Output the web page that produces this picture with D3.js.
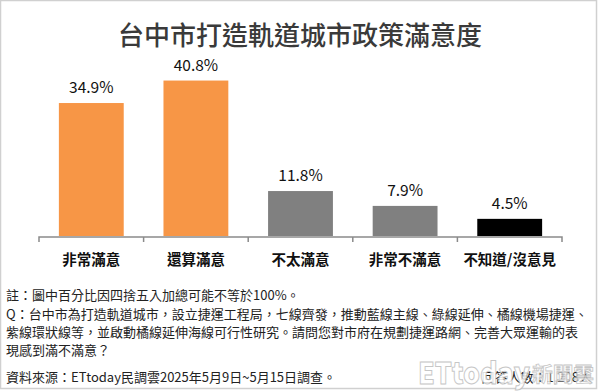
<!DOCTYPE html>
<html>
<head>
<meta charset="utf-8">
<script src="https://cdn.jsdelivr.net/npm/d3@7"></script>
<style>
  html, body { margin: 0; padding: 0; background: #fff; }
  text { font-family: "Noto Sans CJK TC", "Noto Sans", sans-serif; }
</style>
</head>
<body>
<div id="app"></div>
<script>
// 資料
const categories = ['非常滿意', '還算滿意', '不太滿意', '非常不滿意', '不知道/沒意見'];
const values = [34.9, 40.8, 11.8, 7.9, 4.5];
const barColors = ['#f79646', '#f79646', '#808080', '#808080', '#000000'];

const title = '台中市打造軌道城市政策滿意度';
const noteLines = [
    '註：圖中百分比因四捨五入加總可能不等於100%。',
    'Q：台中市為打造軌道城市，設立捷運工程局，七線齊發，推動藍線主線、綠線延伸、橘線機場捷運、',
    '紫線環狀線等，並啟動橘線延伸海線可行性研究。請問您對市府在規劃捷運路網、完善大眾運輸的表',
    '現感到滿不滿意？',
    '資料來源：ETtoday民調雲2025年5月9日~5月15日調查。'
];
const sampleText = '回答人數：1,208人';

const width = 600, height = 392;
const padding = { left: 39, right: 38, top: 45.5, baseline: 236 };

let svg = d3.select('#app').append('svg')
    .attr('width', width)
    .attr('height', height);

// 外框
svg.append('rect')
    .attr('x', 0.5).attr('y', 0.5)
    .attr('width', 596).attr('height', 388)
    .attr('fill', '#fff')
    .attr('stroke', '#d0d0d0')
    .attr('stroke-width', 1.5);

// 標題
svg.append('text')
    .attr('x', 300).attr('y', 45)
    .attr('text-anchor', 'middle')
    .attr('font-size', 26)
    .attr('font-weight', 500)
    .attr('fill', '#3a3a3a')
    .text(title);

// 比例尺
let xScale = d3.scaleBand()
    .domain(categories)
    .range([padding.left, width - padding.right])
    .paddingInner(0.38)
    .paddingOuter(0.19);

let yScale = d3.scaleLinear()
    .domain([0, 50])
    .range([padding.baseline, padding.top]);

// 柱形
svg.selectAll('rect.bar')
    .data(values)
    .enter()
    .append('rect')
    .attr('class', 'bar')
    .attr('x', (d, i) => xScale(categories[i]))
    .attr('y', d => yScale(d))
    .attr('width', xScale.bandwidth())
    .attr('height', d => yScale(0) - yScale(d))
    .attr('fill', (d, i) => barColors[i]);

// 數值標籤
svg.selectAll('text.val')
    .data(values)
    .enter()
    .append('text')
    .attr('class', 'val')
    .attr('x', (d, i) => xScale(categories[i]) + xScale.bandwidth() / 2)
    .attr('y', d => yScale(d) - 10)
    .attr('text-anchor', 'middle')
    .attr('font-size', 15.5)
    .attr('fill', '#111')
    .text(d => d.toFixed(1) + '%');

// x軸
let xAxis = d3.axisBottom(xScale).tickSize(0).tickPadding(0);
let gx = svg.append('g')
    .attr('transform', `translate(0, ${padding.baseline + 1})`)
    .call(xAxis);
gx.select('.domain').attr('stroke', '#8a8a8a').attr('stroke-width', 1.5)
    .attr('d', `M${padding.left},5V0H${width - padding.right}V5`);
gx.selectAll('.tick text').remove();
// 分隔刻度
const edges = categories.map(c => xScale(c) - xScale.step() * xScale.paddingInner() / 2).slice(1);
svg.selectAll('line.sep')
    .data(edges)
    .enter()
    .append('line')
    .attr('class', 'sep')
    .attr('x1', d => d).attr('x2', d => d)
    .attr('y1', padding.baseline + 1).attr('y2', padding.baseline + 6)
    .attr('stroke', '#8a8a8a').attr('stroke-width', 1.5);

// 類別標籤
svg.selectAll('text.cat')
    .data(categories)
    .enter()
    .append('text')
    .attr('class', 'cat')
    .attr('x', d => xScale(d) + xScale.bandwidth() / 2)
    .attr('y', 265)
    .attr('text-anchor', 'middle')
    .attr('font-size', 14.5)
    .attr('font-weight', 700)
    .attr('fill', '#111')
    .text(d => d);

// 註解文字
const noteY = [299.5, 318.5, 336.5, 354.5, 381.5];
svg.selectAll('text.note')
    .data(noteLines)
    .enter()
    .append('text')
    .attr('class', 'note')
    .attr('x', 6)
    .attr('y', (d, i) => noteY[i])
    .attr('font-size', 13)
    .attr('fill', '#222')
    .text(d => d);

svg.append('text')
    .attr('x', 592).attr('y', 381.5)
    .attr('text-anchor', 'end')
    .attr('font-size', 13)
    .attr('fill', '#222')
    .text(sampleText);

// 浮水印
let wm = svg.append('g').attr('opacity', 0.85);
wm.append('text')
    .attr('x', 418).attr('y', 384)
    .attr('font-family', 'Lato, "Noto Sans", sans-serif')
    .attr('font-size', 30)
    .attr('font-weight', 900)
    .attr('textLength', 112)
    .attr('lengthAdjust', 'spacingAndGlyphs')
    .attr('fill', '#fff')
    .attr('stroke', '#bdbdbd')
    .attr('stroke-width', 1)
    .text('ETtoday');
wm.append('text')
    .attr('x', 532).attr('y', 382)
    .attr('font-size', 20)
    .attr('font-weight', 700)
    .attr('textLength', 62)
    .attr('lengthAdjust', 'spacingAndGlyphs')
    .attr('fill', '#fff')
    .attr('stroke', '#bdbdbd')
    .attr('stroke-width', 0.8)
    .text('新聞雲');
</script>
</body>
</html>
